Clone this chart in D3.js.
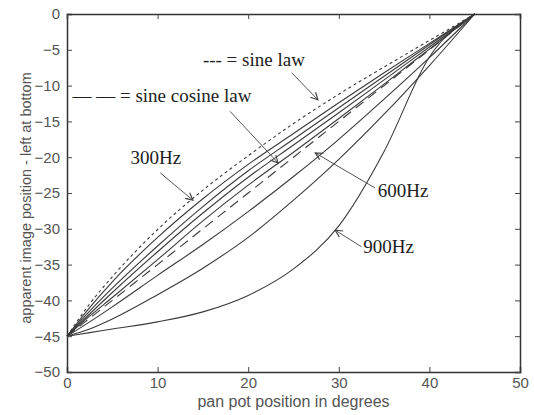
<!DOCTYPE html>
<html><head><meta charset="utf-8">
<script src="https://cdn.jsdelivr.net/npm/d3@7"></script>
<style>
html,body{margin:0;padding:0;background:#fff;}
svg{display:block;}
</style></head>
<body>
<svg id="chart" width="534" height="415"></svg>
<script>
// ---- data ----
const panPos = [0, 2.5, 5, 10, 15, 20, 25, 30, 35, 40, 45];
const sineLaw      = [-45, -40.5, -36.7, -30.1, -24.6, -19.8, -15.3, -11.2, -7.4, -3.7, 0];
const sineCosLaw   = [-45, -42.5, -40, -35, -30, -25, -20, -15, -10, -5, 0];
const hz300        = [-45, -41.0, -37.4, -31.2, -25.8, -21.0, -16.7, -12.4, -8.2, -4.1, 0];
const curveB       = [-45, -41.5, -38.3, -32.4, -26.9, -21.9, -17.5, -13.1, -8.7, -4.3, 0];
const curveC       = [-45, -41.9, -38.9, -33.2, -27.8, -22.8, -18.3, -13.8, -9.2, -4.6, 0];
const curveD       = [-45, -42.2, -39.6, -34.3, -28.9, -23.9, -19.3, -14.6, -9.8, -4.9, 0];
const hz600        = [-45, -43.0, -40.9, -36.5, -32.2, -27.6, -22.7, -17.5, -11.9, -6.1, 0];
const curveE       = [-45, -44.0, -42.6, -39.2, -35.5, -31.2, -26.0, -20.3, -14.0, -7.2, 0];
const hz900        = [-45, -44.5, -44.0, -43.0, -41.6, -39.3, -35.6, -29.6, -19.2, -6.0, 0];

const seriesNames  = ["sine law", "sine cosine law", "300Hz", "b", "c", "d", "600Hz", "e", "900Hz"];
const seriesValues = [sineLaw, sineCosLaw, hz300, curveB, curveC, curveD, hz600, curveE, hz900];
const seriesDash   = ["3,3", "10,6", null, null, null, null, null, null, null];

const xTicks = [0, 10, 20, 30, 40, 50];
const yTicks = [-50, -45, -40, -35, -30, -25, -20, -15, -10, -5, 0];

const xLabel = "pan pot position in degrees";
const yLabel = "apparent image position - left at bottom";

// annotations: text [x, y] and arrow from/to, in data units
const annoTexts = [
  {t: "--- = sine law", x: 15.0, y: -7.3},
  {t: "\u2014 \u2014 = sine cosine law", x: 0.6, y: -12.3},
  {t: "300Hz", x: 7.0, y: -21.0},
  {t: "600Hz", x: 34.3, y: -25.6},
  {t: "900Hz", x: 32.7, y: -33.4}
];
const annoArrows = [
  {x1: 24.8, y1: -8.2, x2: 27.7, y2: -12.0},
  {x1: 18.0, y1: -13.6, x2: 23.3, y2: -20.8},
  {x1: 10.3, y1: -22.2, x2: 13.9, y2: -26.0},
  {x1: 34.0, y1: -24.3, x2: 27.4, y2: -19.4},
  {x1: 32.5, y1: -32.5, x2: 29.6, y2: -30.2}
];

// ---- drawing ----
const svg = d3.select("#chart");
const L = 67, R = 520, T = 14, B = 372;
const x = d3.scaleLinear().domain([0, 50]).range([L, R]);
const y = d3.scaleLinear().domain([-50, 0]).range([B, T]);

// curves
const line = d3.line().x(d => x(d[0])).y(d => y(d[1])).curve(d3.curveMonotoneX);
const g = svg.append("g");
seriesValues.forEach((vals, i) => {
  const pts = panPos.map((p, j) => [p, vals[j]]);
  g.append("path")
    .datum(pts)
    .attr("d", line)
    .attr("fill", "none")
    .attr("stroke", "#3a3a3a")
    .attr("stroke-width", 1.1)
    .attr("stroke-dasharray", seriesDash[i])
    .attr("class", "series")
    .attr("data-name", seriesNames[i]);
});

// axes (MATLAB style: ticks inward on all sides)
const tickLen = 5;
const ax = svg.append("g")
  .attr("transform", `translate(0,${B})`)
  .call(d3.axisBottom(x).tickValues(xTicks).tickSize(-tickLen).tickPadding(5));
const ay = svg.append("g")
  .attr("transform", `translate(${L},0)`)
  .call(d3.axisLeft(y).tickValues(yTicks).tickSize(-tickLen).tickPadding(7));
const at = svg.append("g")
  .attr("transform", `translate(0,${T})`)
  .call(d3.axisTop(x).tickValues(xTicks).tickSize(-tickLen).tickFormat(""));
const ar = svg.append("g")
  .attr("transform", `translate(${R},0)`)
  .call(d3.axisRight(y).tickValues(yTicks).tickSize(-tickLen).tickFormat(""));
[ax, ay, at, ar].forEach(a => {
  a.select(".domain").attr("stroke", "#333").attr("stroke-width", 1.5);
  a.selectAll(".tick line").attr("stroke", "#444").attr("stroke-width", 1);
  a.selectAll("text")
    .attr("fill", "#555")
    .style("font-family", "'Liberation Sans', Arial, sans-serif")
    .style("font-size", "15px");
});

// axis labels
svg.append("text")
  .attr("x", (L + R) / 2).attr("y", 407)
  .attr("text-anchor", "middle")
  .attr("fill", "#555")
  .style("font-family", "'Liberation Sans', Arial, sans-serif")
  .style("font-size", "16px")
  .text(xLabel);
svg.append("text")
  .attr("transform", `translate(31,198) rotate(-90)`)
  .attr("text-anchor", "middle")
  .attr("fill", "#555")
  .style("font-family", "'Liberation Sans', Arial, sans-serif")
  .style("font-size", "14.5px")
  .text(yLabel);

// arrow marker
svg.append("defs").append("marker")
  .attr("id", "arr").attr("viewBox", "0 0 10 10")
  .attr("refX", 9).attr("refY", 5)
  .attr("markerWidth", 9).attr("markerHeight", 9)
  .attr("markerUnits", "userSpaceOnUse")
  .attr("orient", "auto")
  .append("path").attr("d", "M1,1 L9,5 L1,9")
  .attr("fill", "none").attr("stroke", "#444").attr("stroke-width", 1.3);

svg.append("g").selectAll("line").data(annoArrows).join("line")
  .attr("x1", d => x(d.x1)).attr("y1", d => y(d.y1))
  .attr("x2", d => x(d.x2)).attr("y2", d => y(d.y2))
  .attr("stroke", "#555").attr("stroke-width", 1)
  .attr("marker-end", "url(#arr)");

svg.append("g").selectAll("text").data(annoTexts).join("text")
  .attr("x", d => x(d.x)).attr("y", d => y(d.y))
  .attr("fill", "#222")
  .style("font-family", "'Liberation Serif', 'Times New Roman', serif")
  .style("font-size", "19px")
  .text(d => d.t);
</script>
</body></html>
